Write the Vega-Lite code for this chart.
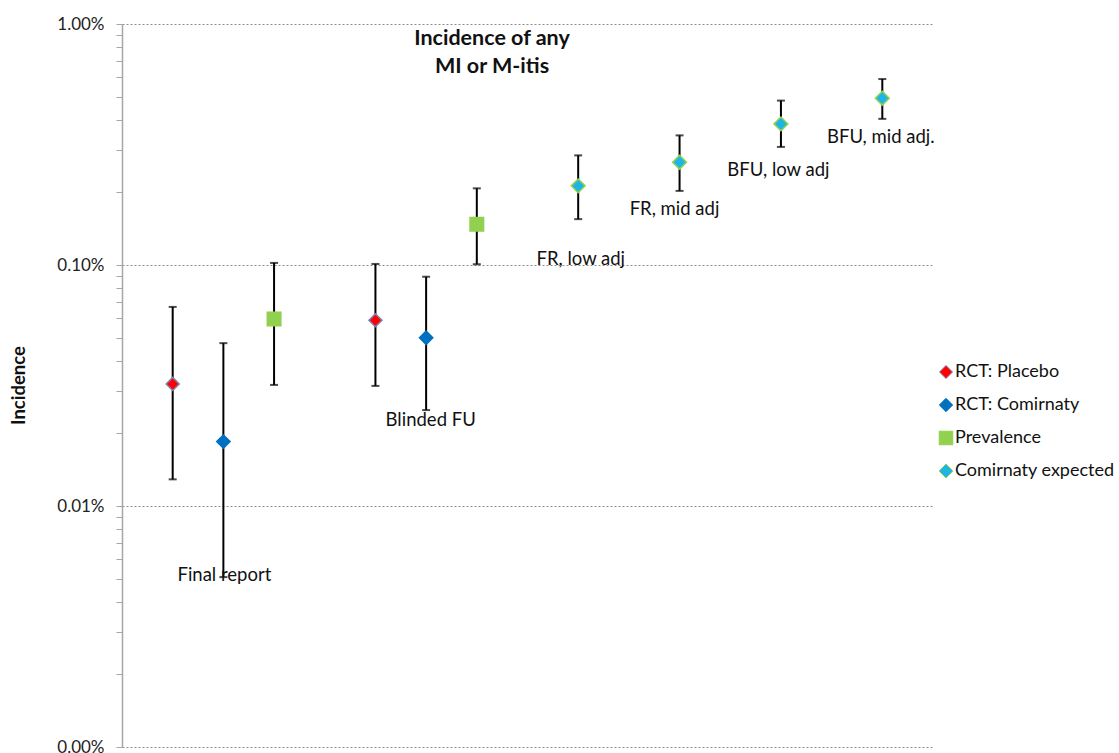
{
  "$schema": "https://vega.github.io/schema/vega-lite/v6.json",
  "width": 811,
  "height": 723,
  "autosize": "none",
  "padding": {"left": 122, "top": 24, "right": 186, "bottom": 6},
  "background": "white",
  "config": {
    "view": {"stroke": null},
    "font": "Lato",
    "text": {"font": "Lato"},
    "legend": {"labelLimit": 300}
  },
  "datasets": {
    "points": [
      {"x": 1, "series": "RCT: Placebo", "v": 0.000321, "lo": 0.000129, "hi": 0.00067},
      {"x": 2, "series": "RCT: Comirnaty", "v": 0.000185, "lo": 0.0000507, "hi": 0.000474},
      {"x": 3, "series": "Prevalence", "v": 0.000597, "lo": 0.000318, "hi": 0.00102},
      {"x": 5, "series": "RCT: Placebo", "v": 0.00059, "lo": 0.000315, "hi": 0.00101},
      {"x": 6, "series": "RCT: Comirnaty", "v": 0.000499, "lo": 0.00025, "hi": 0.000894},
      {"x": 7, "series": "Prevalence", "v": 0.001475, "lo": 0.001007, "hi": 0.00208},
      {"x": 9, "series": "Comirnaty expected", "v": 0.00213, "lo": 0.00155, "hi": 0.00285},
      {"x": 11, "series": "Comirnaty expected", "v": 0.00267, "lo": 0.00203, "hi": 0.00345},
      {"x": 13, "series": "Comirnaty expected", "v": 0.00385, "lo": 0.00309, "hi": 0.00481},
      {"x": 15, "series": "Comirnaty expected", "v": 0.00492, "lo": 0.00404, "hi": 0.00591}
    ],
    "labels": [
      {"x": 2.02, "y": 0.0000489, "label": "Final report"},
      {"x": 6.09, "y": 0.000215, "label": "Blinded FU"},
      {"x": 9.05, "y": 0.001, "label": "FR, low adj"},
      {"x": 10.9, "y": 0.00161, "label": "FR, mid adj"},
      {"x": 12.95, "y": 0.00234, "label": "BFU, low adj"},
      {"x": 14.97, "y": 0.00322, "label": "BFU, mid adj."}
    ],
    "title": [
      {"x": 7.3, "y": 0.0082, "label": "Incidence of any"},
      {"x": 7.3, "y": 0.00625, "label": "MI or M-itis"}
    ]
  },
  "layer": [
    {
      "data": {"name": "points"},
      "mark": {"type": "rule", "color": "black", "strokeWidth": 2},
      "encoding": {
        "x": {"field": "x", "type": "quantitative", "scale": {"domain": [0, 16], "nice": false, "zero": false}, "axis": null},
        "y": {
          "field": "lo", "type": "quantitative",
          "scale": {"type": "log", "domain": [0.00001, 0.01], "nice": false},
          "axis": {
            "title": "Incidence",
            "titleFont": "Lato",
            "titleFontSize": 18.5,
            "titleFontWeight": "bold",
            "titleColor": "#111",
            "titleX": -104,
            "titleY": 361,
            "titleAngle": -90,
            "titleBaseline": "middle",
            "titleAlign": "center",
            "values": [0.00001, 0.00002, 0.00003, 0.00004, 0.00005, 0.00006, 0.00007, 0.00008, 0.00009,
                       0.0001, 0.0002, 0.0003, 0.0004, 0.0005, 0.0006, 0.0007, 0.0008, 0.0009,
                       0.001, 0.002, 0.003, 0.004, 0.005, 0.006, 0.007, 0.008, 0.009, 0.01],
            "labelExpr": "abs(log(datum.value)/LN10 - round(log(datum.value)/LN10)) < 0.001 ? format(datum.value, '.2%') : ''",
            "labelFont": "Lato",
            "labelFontSize": 17,
            "labelColor": "#222",
            "labelPadding": 12,
            "labelOverlap": false,
            "labelBound": false,
            "labelFlush": false,
            "tickSize": 6,
            "tickColor": "#a6a6a6",
            "tickWidth": 1,
            "domainColor": "#a6a6a6",
            "domainWidth": 1.5,
            "grid": true,
            "gridColor": "#8c8c8c",
            "gridDash": [2, 2],
            "gridWidth": 1,
            "gridOpacity": {"condition": {"test": "abs(log(datum.value)/LN10 - round(log(datum.value)/LN10)) < 0.001", "value": 1}, "value": 0}
          }
        },
        "y2": {"field": "hi"}
      }
    },
    {
      "data": {"name": "points"},
      "mark": {"type": "tick", "orient": "horizontal", "color": "black", "size": 8, "thickness": 2},
      "encoding": {
        "x": {"field": "x", "type": "quantitative"},
        "y": {"field": "lo", "type": "quantitative"}
      }
    },
    {
      "data": {"name": "points"},
      "mark": {"type": "tick", "orient": "horizontal", "color": "black", "size": 8, "thickness": 2},
      "encoding": {
        "x": {"field": "x", "type": "quantitative"},
        "y": {"field": "hi", "type": "quantitative"}
      }
    },
    {
      "data": {"name": "points"},
      "mark": {"type": "point", "filled": true, "opacity": 1, "strokeWidth": 1.5, "strokeOpacity": 1},
      "encoding": {
        "x": {"field": "x", "type": "quantitative"},
        "y": {"field": "v", "type": "quantitative"},
        "color": {
          "field": "series", "type": "nominal",
          "scale": {"domain": ["RCT: Placebo", "RCT: Comirnaty", "Prevalence", "Comirnaty expected"],
                    "range": ["#ff0000", "#0070c0", "#92d050", "#1db4e6"]},
          "legend": {
            "title": null,
            "orient": "none",
            "legendX": 815,
            "legendY": 339,
            "labelFont": "Lato",
            "labelFontSize": 18,
            "labelColor": "#111",
            "labelLimit": 300,
            "symbolSize": 100,
            "rowPadding": 15,
            "labelOffset": 0,
            "symbolStrokeWidth": 1
          }
        },
        "shape": {
          "field": "series", "type": "nominal",
          "scale": {"domain": ["RCT: Placebo", "RCT: Comirnaty", "Prevalence", "Comirnaty expected"],
                    "range": ["diamond", "diamond", "square", "diamond"]},
          "legend": {
            "title": null,
            "orient": "none",
            "legendX": 815,
            "legendY": 339,
            "labelFont": "Lato",
            "labelFontSize": 18,
            "labelColor": "#111",
            "labelLimit": 300,
            "symbolSize": 100,
            "rowPadding": 15,
            "labelOffset": 0,
            "symbolStrokeWidth": 1
          }
        },
        "stroke": {
          "field": "series", "type": "nominal",
          "scale": {"domain": ["RCT: Placebo", "RCT: Comirnaty", "Prevalence", "Comirnaty expected"],
                    "range": ["#8080b8", "#0070c0", "#92d050", "#92d050"]},
          "legend": {
            "title": null,
            "orient": "none",
            "legendX": 815,
            "legendY": 339,
            "labelFont": "Lato",
            "labelFontSize": 18,
            "labelColor": "#111",
            "labelLimit": 300,
            "symbolSize": 100,
            "rowPadding": 15,
            "labelOffset": 0,
            "symbolStrokeWidth": 1
          }
        },
        "size": {
          "field": "series", "type": "nominal",
          "scale": {"domain": ["RCT: Placebo", "RCT: Comirnaty", "Prevalence", "Comirnaty expected"],
                    "range": [170, 190, 160, 170]},
          "legend": null
        }
      }
    },
    {
      "data": {"name": "labels"},
      "mark": {"type": "text", "font": "Lato", "fontSize": 18.5, "color": "#111", "align": "center", "baseline": "alphabetic"},
      "encoding": {
        "x": {"field": "x", "type": "quantitative"},
        "y": {"field": "y", "type": "quantitative"},
        "text": {"field": "label"}
      }
    },
    {
      "data": {"name": "title"},
      "mark": {"type": "text", "font": "Lato", "fontSize": 21.5, "fontWeight": "bold", "color": "#111", "align": "center", "baseline": "alphabetic"},
      "encoding": {
        "x": {"field": "x", "type": "quantitative"},
        "y": {"field": "y", "type": "quantitative"},
        "text": {"field": "label"}
      }
    }
  ]
}
